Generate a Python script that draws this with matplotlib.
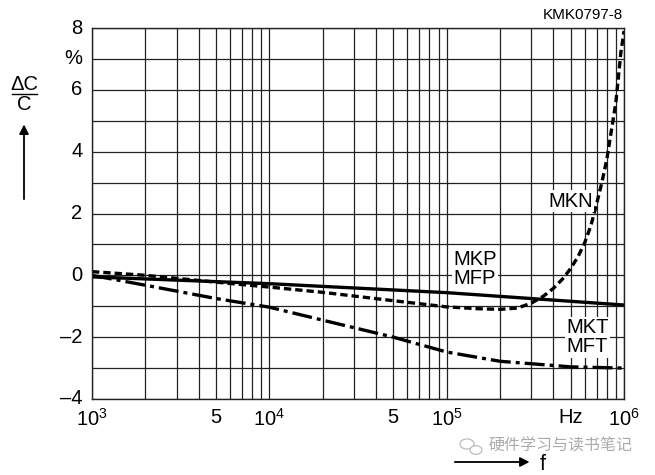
import numpy as np
import matplotlib.pyplot as plt
from matplotlib.patches import Circle
from matplotlib.ticker import FixedLocator, NullFormatter

plt.rcParams['font.family'] = ['Liberation Sans', 'Noto Sans CJK SC', 'DejaVu Sans']

# MKP / MFP (solid)
f_mkp = [1e3, 1e4, 1e5, 1e6]
dc_mkp = [-0.05, -0.27, -0.56, -0.96]

# MKN (dashed)
f_mkn = [1e3, 2e3, 5e3, 1e4, 2e4, 5e4, 1e5, 1.5e5, 2e5, 2.5e5, 3e5, 3.5e5, 4e5,
         4.5e5, 5e5, 5.5e5, 6e5, 6.5e5, 7e5, 7.5e5, 8e5, 9e5, 9.6e5, 1e6]
dc_mkn = [0.12, 0.0, -0.22, -0.38, -0.55, -0.82, -1.02, -1.08, -1.1, -1.06, -0.9, -0.68,
          -0.42, -0.12, 0.22, 0.6, 1.05, 1.6, 2.3, 3.0, 3.75, 5.6, 7.2, 7.9]

# MKT / MFT (dash-dot)
f_mkt = [1e3, 2e3, 5e3, 1e4, 2e4, 5e4, 1e5, 2e5, 5e5, 1e6]
dc_mkt = [0.0, -0.32, -0.75, -1.03, -1.45, -2.0, -2.48, -2.78, -2.96, -3.0]

fig = plt.figure(figsize=(6.55, 4.75), dpi=100)
ax = fig.add_axes([92 / 655, 1 - 399 / 475, 532 / 655, 371 / 475])

ax.set_xscale('log')
ax.set_xlim(1e3, 1e6)
ax.set_ylim(-4, 8)

minor = [m * 10 ** e for e in range(3, 6) for m in range(2, 10)]
ax.xaxis.set_major_locator(FixedLocator([1e3, 1e4, 1e5, 1e6]))
ax.xaxis.set_minor_locator(FixedLocator(minor))
ax.xaxis.set_major_formatter(NullFormatter())
ax.xaxis.set_minor_formatter(NullFormatter())
ax.set_yticks(range(-4, 9))
ax.set_yticklabels([])
ax.grid(True, which='both', color='#222222', linewidth=0.9)
ax.tick_params(which='both', length=0)
for s in ax.spines.values():
    s.set_linewidth(1.0)
    s.set_color('#222222')

ax.plot(f_mkp, dc_mkp, color='black', linewidth=2.4, solid_capstyle='butt')
ax.plot(f_mkn, dc_mkn, color='black', linewidth=2.4, dashes=(2.2, 1.2))
ax.plot(f_mkt, dc_mkt, color='black', linewidth=2.4, dashes=(6, 1.5, 1.2, 1.5))

fs = 14.5
# y tick labels
for v in [8, 6, 4, 2, 0, -2, -4]:
    txt = str(v).replace('-', '–')
    ax.text(-0.018, (v + 4) / 12, txt, transform=ax.transAxes, ha='right', va='center', fontsize=fs)
ax.text(-0.018, 11 / 12, '%', transform=ax.transAxes, ha='right', va='center', fontsize=fs)

# x tick labels
xlab = [(1e3, '$\\mathregular{10^3}$'), (5e3, '5'), (1e4, '$\\mathregular{10^4}$'),
        (5e4, '5'), (1e5, '$\\mathregular{10^5}$'), (5e5, 'Hz'), (1e6, '$\\mathregular{10^6}$')]
for xv, t in xlab:
    ax.text(xv, -4.3, t, ha='center', va='top', fontsize=fs)

# curve labels
box = dict(facecolor='white', edgecolor='none', pad=1)
ax.text(5.0e5, 2.4, 'MKN', ha='center', va='center', fontsize=fs, bbox=box)
ax.text(1.44e5, 0.2, 'MKP\nMFP', ha='center', va='center', fontsize=fs, linespacing=1.0, bbox=box)
ax.text(6.2e5, -2.0, 'MKT\nMFT', ha='center', va='center', fontsize=fs, linespacing=1.0, bbox=box)

# figure annotations
fig.text(583 / 655, 1 - 15 / 475, 'KMK0797-8', ha='center', va='center', fontsize=11)
fig.text(24 / 655, 1 - 84 / 475, 'ΔC', ha='center', va='center', fontsize=fs)
fig.text(24 / 655, 1 - 105 / 475, 'C', ha='center', va='center', fontsize=fs)
fig.add_artist(plt.Line2D([12 / 655, 37 / 655], [1 - 94 / 475, 1 - 94 / 475], color='black', linewidth=1.0))
fig.add_artist(plt.annotate('', xy=(24 / 655, 1 - 122 / 475), xytext=(24 / 655, 1 - 202 / 475),
                            xycoords='figure fraction',
                            arrowprops=dict(arrowstyle='-|>', color='black', lw=1.0,
                                            mutation_scale=14)))
fig.add_artist(plt.annotate('', xy=(532 / 655, 1 - 462 / 475), xytext=(452 / 655, 1 - 462 / 475),
                            xycoords='figure fraction',
                            arrowprops=dict(arrowstyle='-|>', color='black', lw=1.0,
                                            mutation_scale=14)))
fig.text(543 / 655, 1 - 464 / 475, 'f', ha='center', va='center', fontsize=fs + 1)

# watermark
fig.text(561 / 655, 1 - 446 / 475, '硬件学习与读书笔记', ha='center', va='center',
         fontsize=11.5, color='#aaaaaa', family=['Noto Sans CJK SC', 'DejaVu Sans'])
for cx, cy, r in [(467, 444, 7), (476, 450, 6)]:
    fig.add_artist(Circle((cx / 655, 1 - cy / 475), r / 655, transform=fig.transFigure,
                          facecolor='white', edgecolor='#bbbbbb', linewidth=0.9))

fig.savefig('out.png', dpi=100)
